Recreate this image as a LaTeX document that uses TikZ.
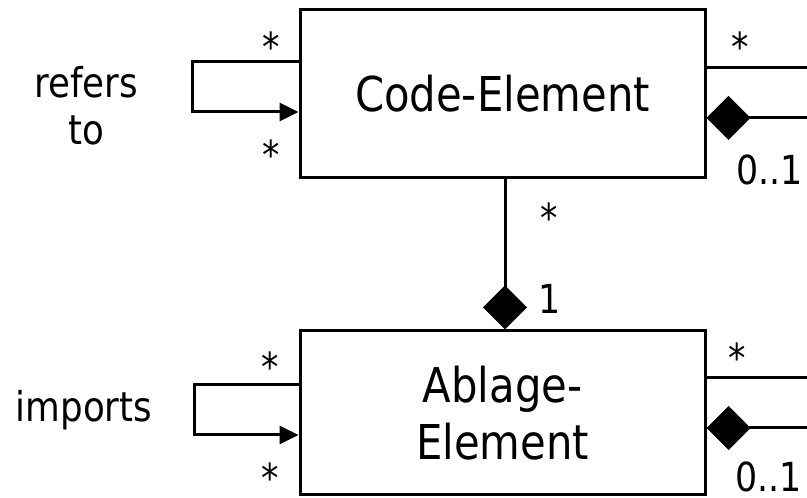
\documentclass[tikz,border=0pt]{standalone}
\usepackage{fontspec}
\setmainfont[FakeStretch=0.87]{DejaVu Sans}
\usetikzlibrary{arrows.meta}
\tikzset{
  classbox/.style={draw, line width=3pt, minimum width=405pt, minimum height=168pt, align=center, font=\fontsize{48}{57}\selectfont},
  assoc/.style={line width=3pt},
  comp/.style={arrows={Diamond[length=44pt,width=44pt]-}},
  nav/.style={arrows={-Triangle[length=19pt,width=18pt]}},
  mult/.style={inner sep=0pt, font=\fontsize{40}{48}\selectfont},
  rolename/.style={inner sep=0pt, align=center, font=\fontsize{41}{47}\selectfont}
}

\begin{document}
\begin{tikzpicture}[x=1pt,y=1pt]
\useasboundingbox (0,0) rectangle (807,498);
% classes
\node[classbox] (code) at (502.5,404) {Code-Element};
\node[classbox, minimum height=164pt] (ablage) at (502.5,85) {Ablage-\\Element};

% refers to
\draw[assoc,nav] ([yshift=32pt]code.west) -- ++(-106pt,0) |- ([yshift=-18pt]code.west);
\node[rolename] (refers) at (86,392) {refers\\to};
\node[mult, anchor=base] (rsrc) at (271,436.5) {*};
\node[mult, anchor=base] (rdst) at (271,328) {*};

% imports
\draw[assoc,nav] ([yshift=28pt]ablage.west) -- ++(-104pt,0) |- ([yshift=-22pt]ablage.west);
\node[rolename, anchor=base] (imports) at (84,76) {imports};
\node[mult, anchor=base] (isrc) at (270,116.5) {*};
\node[mult, anchor=base] (idst) at (270,5.5) {*};

% code in ablage
\draw[assoc,comp] ([xshift=2.5pt]ablage.north) -- ([xshift=2.5pt]code.south);
\node[mult, anchor=base] (cmany) at (549,265.5) {*};
\node[mult, anchor=base west] (aone) at (538,184) {1};

% right side, code
\coordinate (cout) at (820,430);
\coordinate (cpart) at (820,380);
\draw[assoc] ([yshift=26pt]code.east) -- (cout);
\draw[assoc,comp] ([yshift=-24pt]code.east) -- (cpart);
\node[mult, anchor=base] (coutm) at (740,436.5) {*};
\node[mult, anchor=base west] (cpartm) at (736,313) {0..1};

% right side, ablage
\coordinate (aout) at (820,120);
\coordinate (apart) at (820,70);
\draw[assoc] ([yshift=35pt]ablage.east) -- (aout);
\draw[assoc,comp] ([yshift=-15pt]ablage.east) -- (apart);
\node[mult, anchor=base] (aoutm) at (737,125.5) {*};
\node[mult, anchor=base west] (apartm) at (735,6) {0..1};

\end{tikzpicture}
\end{document}
